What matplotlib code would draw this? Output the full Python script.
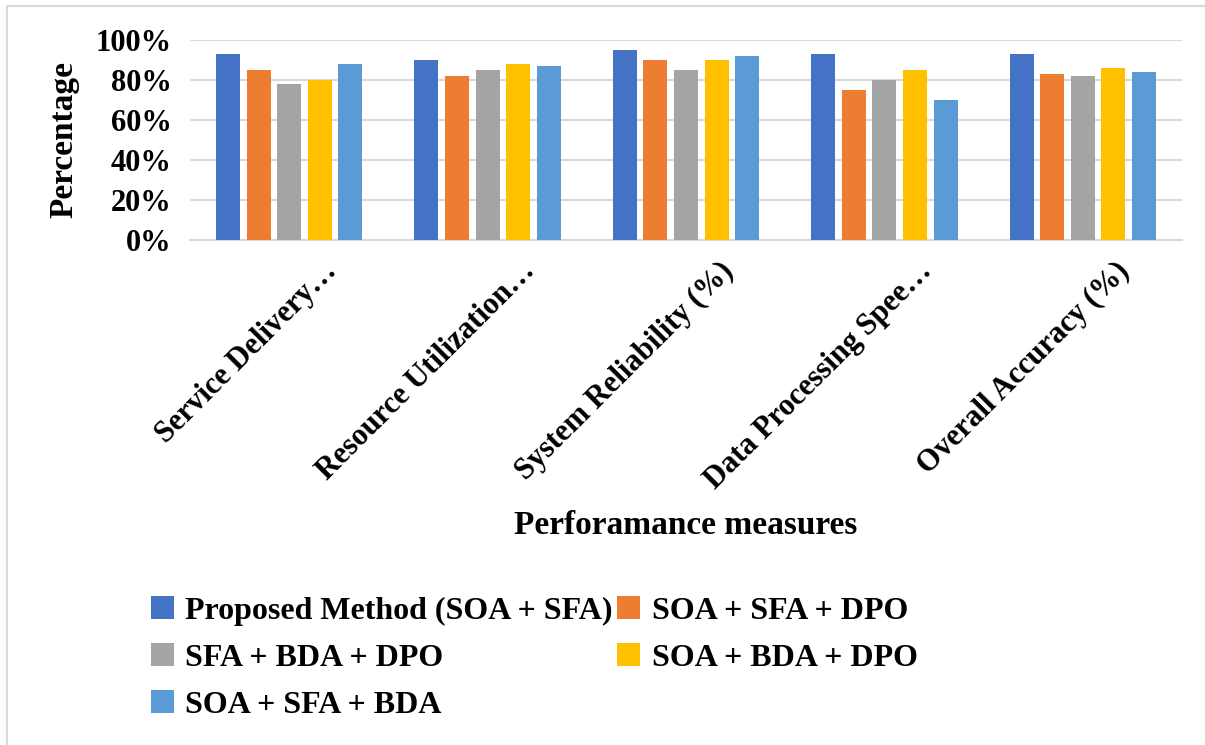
import matplotlib
matplotlib.use('Agg')
import matplotlib.pyplot as plt
import matplotlib.transforms as mtransforms
from matplotlib.lines import Line2D
import numpy as np

plt.rcParams['font.family'] = ['Liberation Serif', 'DejaVu Serif']
plt.rcParams['font.weight'] = 'bold'

categories = ['Service Delivery\u2026', 'Resource Utilization\u2026', 'System Reliability (%)',
              'Data Processing Spee\u2026', 'Overall Accuracy (%)']
series = ['Proposed Method (SOA + SFA)', 'SOA + SFA + DPO', 'SFA + BDA + DPO',
          'SOA + BDA + DPO', 'SOA + SFA + BDA']
proposed = [93, 90, 95, 93, 93]
soa_sfa_dpo = [85, 82, 90, 75, 83]
sfa_bda_dpo = [78, 85, 85, 80, 82]
soa_bda_dpo = [80, 88, 90, 85, 86]
soa_sfa_bda = [88, 87, 92, 70, 84]
colors = ['#4472C4', '#ED7D31', '#A5A5A5', '#FFC000', '#5B9BD5']

fig = plt.figure(figsize=(12.05, 7.45), dpi=100)
ax = fig.add_axes([190/1205, 1-240/745, 992/1205, 200/745])

x = np.arange(len(categories))
width = 0.121
step = 0.154
data = [proposed, soa_sfa_dpo, sfa_bda_dpo, soa_bda_dpo, soa_sfa_bda]
bars = []
for i, vals in enumerate(data):
    b = ax.bar(x + (i - 2)*step, np.array(vals)/100, width, color=colors[i], label=series[i], zorder=3)
    bars.append(b)

ax.set_xlim(-0.5, len(categories) - 0.5)
ax.set_ylim(0, 1.0)
ax.set_yticks(np.arange(0, 1.01, 0.2))
ax.set_yticklabels(['%d%%' % v for v in range(0, 101, 20)], fontsize=22, fontweight='bold')
ax.grid(axis='y', color='#d9d9d9', lw=1.5, zorder=0)
ax.tick_params(axis='y', length=0, pad=13)
ax.tick_params(axis='x', length=0)
for s in ['top', 'right', 'left']:
    ax.spines[s].set_visible(False)
ax.spines['bottom'].set_color('#d9d9d9')
ax.spines['bottom'].set_linewidth(1.5)

ax.set_xticks(x)
ax.set_xticklabels(categories, rotation=45, ha='right', va='center', rotation_mode='anchor',
                   fontsize=22, fontweight='bold')
offset = mtransforms.ScaledTranslation(43/100, -22/100, fig.dpi_scale_trans)
for lab in ax.get_xticklabels():
    lab.set_transform(lab.get_transform() + offset)

ax.set_ylabel('Percentage', fontsize=24, fontweight='bold', labelpad=12)
fig.text(686/1205, 1-525/745, 'Perforamance measures', ha='center', va='center',
         fontsize=24, fontweight='bold')

order = [0, 2, 4, 1, 3]
leg = fig.legend([bars[i] for i in order], [series[i] for i in order], ncol=2,
                 loc='upper left', bbox_to_anchor=(135/1205, 1-580/745), frameon=False,
                 fontsize=23, handlelength=0.72, handleheight=0.72, handletextpad=0.35,
                 labelspacing=0.55, columnspacing=0.15, borderpad=0)
for t in leg.get_texts():
    t.set_fontweight('bold')

# outer frame of the chart area
fig.add_artist(Line2D([7/1205, 7/1205], [0, 1-6/745], color='#d9d9d9', lw=1.5))
fig.add_artist(Line2D([7/1205, 1], [1-6/745, 1-6/745], color='#d9d9d9', lw=1.5))

fig.savefig('out.png', dpi=100)
